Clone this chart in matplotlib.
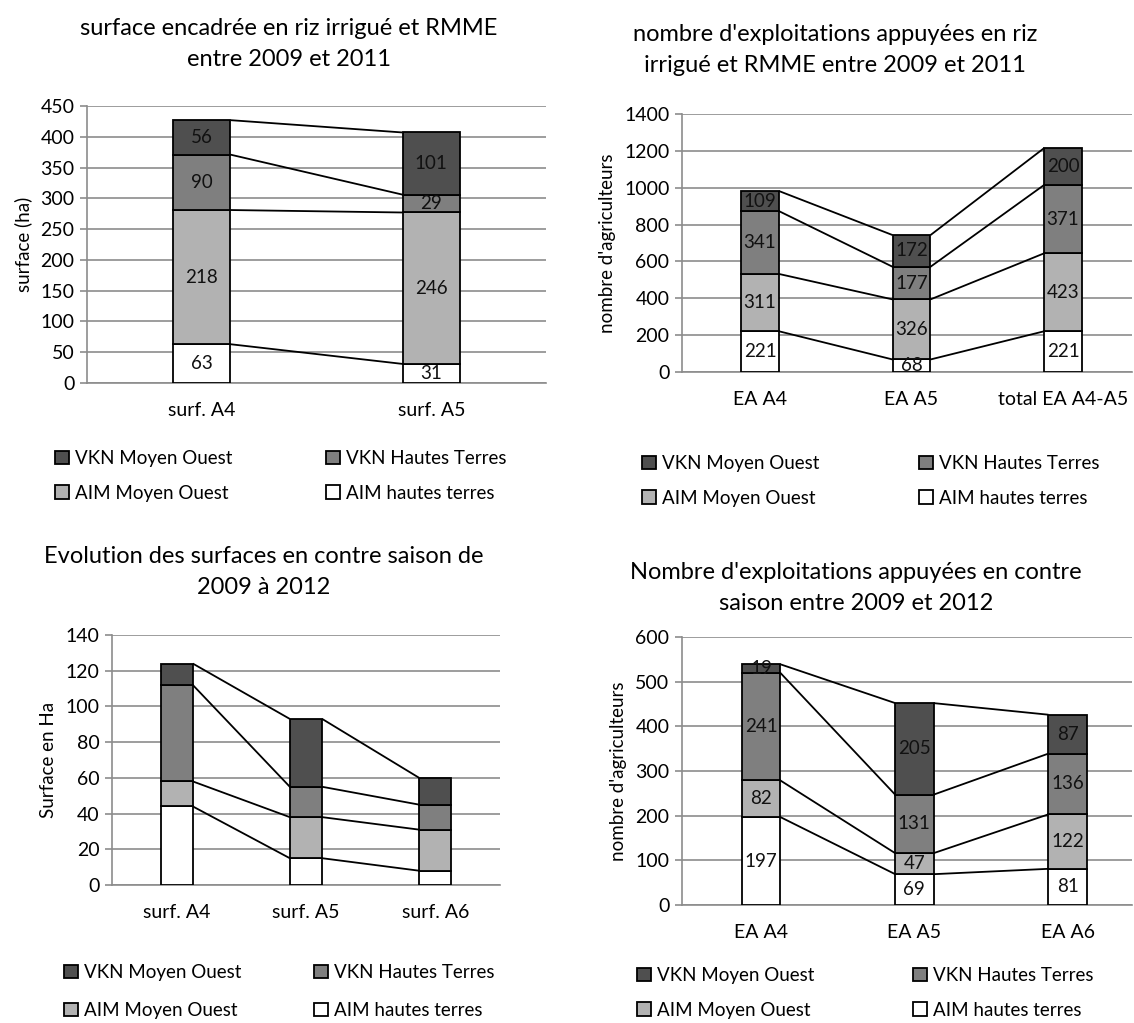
import numpy as np
import matplotlib.pyplot as plt

plt.rcParams['font.family'] = ['Lato', 'DejaVu Sans']

# --- data -----------------------------------------------------------------
series_names = ['AIM hautes terres', 'AIM Moyen Ouest', 'VKN Hautes Terres', 'VKN Moyen Ouest']
series_colors = ['#ffffff', '#b2b2b2', '#7f7f7f', '#4f4f4f']

# surface encadrée en riz irrigué et RMME
tl_cats = ['surf. A4', 'surf. A5']
tl_aim_ht = [63, 31]
tl_aim_mo = [218, 246]
tl_vkn_ht = [90, 29]
tl_vkn_mo = [56, 101]

# nombre d'exploitations appuyées en riz irrigué
tr_cats = ['EA A4', 'EA A5', 'total EA A4-A5']
tr_aim_ht = [221, 68, 221]
tr_aim_mo = [311, 326, 423]
tr_vkn_ht = [341, 177, 371]
tr_vkn_mo = [109, 172, 200]

# surfaces en contre saison (no labels on the original)
bl_cats = ['surf. A4', 'surf. A5', 'surf. A6']
bl_aim_ht = [44, 15, 8]
bl_aim_mo = [14, 23, 23]
bl_vkn_ht = [54, 17, 14]
bl_vkn_mo = [12, 38, 15]

# exploitations en contre saison
br_cats = ['EA A4', 'EA A5', 'EA A6']
br_aim_ht = [197, 69, 81]
br_aim_mo = [82, 47, 122]
br_vkn_ht = [241, 131, 136]
br_vkn_mo = [19, 205, 87]

W, H = 1134, 1023
fig = plt.figure(figsize=(W / 100, H / 100), dpi=100)


def px_axes(left, top, right, bottom):
    return fig.add_axes([left / W, 1 - bottom / H, (right - left) / W, (bottom - top) / H])


def stacked(ax, cats, stacks, ymax, ystep, ylabel, labels=True, xlim=None):
    x = np.arange(len(cats))
    w = 0.25
    bottom = np.zeros(len(cats))
    handles = []
    tops = []
    for vals, col, name in zip(stacks, series_colors, series_names):
        vals = np.array(vals, dtype=float)
        b = ax.bar(x, vals, w, bottom=bottom, color=col, edgecolor='black',
                   linewidth=1.3, label=name, zorder=3)
        handles.append(b)
        if labels:
            for xi, v, b0 in zip(x, vals, bottom):
                ax.text(xi, b0 + v / 2, f"{int(v)}", ha='center', va='center',
                        fontsize=13.5, color='#111111', zorder=5)
        bottom = bottom + vals
        tops.append(bottom.copy())
    # series lines between bars
    for lvl in tops:
        for i in range(len(cats) - 1):
            ax.plot([x[i] + w / 2, x[i + 1] - w / 2], [lvl[i], lvl[i + 1]],
                    color='black', lw=1.3, zorder=4, solid_capstyle='butt')
    ax.set_ylim(0, ymax)
    ax.set_yticks(np.arange(0, ymax + 1, ystep))
    if xlim is None:
        xlim = (-0.5, len(cats) - 0.5)
    ax.set_xlim(*xlim)
    ax.set_xticks(x)
    ax.set_xticklabels(cats)
    ax.grid(axis='y', color='#8c8c8c', lw=1.2, zorder=0)
    ax.set_axisbelow(True)
    for s in ['top', 'right']:
        ax.spines[s].set_visible(False)
    ax.spines['left'].set_color('#8c8c8c')
    ax.spines['bottom'].set_color('#8c8c8c')
    ax.spines['left'].set_linewidth(1.2)
    ax.spines['bottom'].set_linewidth(1.2)
    ax.tick_params(axis='y', length=5, color='#8c8c8c', width=1.2, labelsize=14, pad=4)
    ax.tick_params(axis='x', length=0, labelsize=14, pad=14)
    ax.set_ylabel(ylabel, fontsize=13.5, labelpad=6)
    return handles


def legend_cols(ax, handles, x1, x2, y, spacing):
    # two columns: dark/light on the left, mid/white on the right
    h = handles
    kw = dict(loc='upper left', bbox_transform=fig.transFigure, frameon=False,
              fontsize=13.5, handlelength=0.75, handleheight=0.75, handletextpad=0.3,
              labelspacing=spacing, borderaxespad=0, borderpad=0)
    l1 = ax.legend([h[3], h[1]], [series_names[3], series_names[1]],
                   bbox_to_anchor=(x1 / W, 1 - y / H), **kw)
    ax.add_artist(l1)
    ax.legend([h[2], h[0]], [series_names[2], series_names[0]],
              bbox_to_anchor=(x2 / W, 1 - y / H), **kw)


def title(text, xc, yc):
    fig.text(xc / W, 1 - yc / H, text, ha='center', va='center',
             fontsize=17, linespacing=1.62)


# top left
ax1 = px_axes(87, 106, 546, 383)
h1 = stacked(ax1, tl_cats, [tl_aim_ht, tl_aim_mo, tl_vkn_ht, tl_vkn_mo], 450, 50, 'surface (ha)')
title("surface encadrée en riz irrigué et RMME\nentre 2009 et 2011", 289, 44)
legend_cols(ax1, h1, 55, 326, 450, 0.95)

# top right
ax2 = px_axes(682, 114, 1132, 372)
h2 = stacked(ax2, tr_cats, [tr_aim_ht, tr_aim_mo, tr_vkn_ht, tr_vkn_mo], 1400, 200,
             "nombre d'agriculteurs", xlim=(-0.515, 2.455))
title("nombre d'exploitations appuyées en riz\nirrigué et RMME entre 2009 et 2011", 835, 50)
legend_cols(ax2, h2, 642, 919, 455, 0.95)

# bottom left
ax3 = px_axes(112, 635, 500, 885)
h3 = stacked(ax3, bl_cats, [bl_aim_ht, bl_aim_mo, bl_vkn_ht, bl_vkn_mo], 140, 20,
             'Surface en Ha', labels=False)
title("Evolution des surfaces en contre saison de\n2009 à 2012", 264, 572)
legend_cols(ax3, h3, 64, 314, 964, 1.12)

# bottom right
ax4 = px_axes(682, 637, 1132, 905)
h4 = stacked(ax4, br_cats, [br_aim_ht, br_aim_mo, br_vkn_ht, br_vkn_mo], 600, 100,
             "nombre d'agriculteurs", xlim=(-0.516, 2.42))
title("Nombre d'exploitations appuyées en contre\nsaison entre 2009 et 2012", 856, 588)
legend_cols(ax4, h4, 637, 913, 967, 0.95)

fig.savefig('out.png', dpi=100)
